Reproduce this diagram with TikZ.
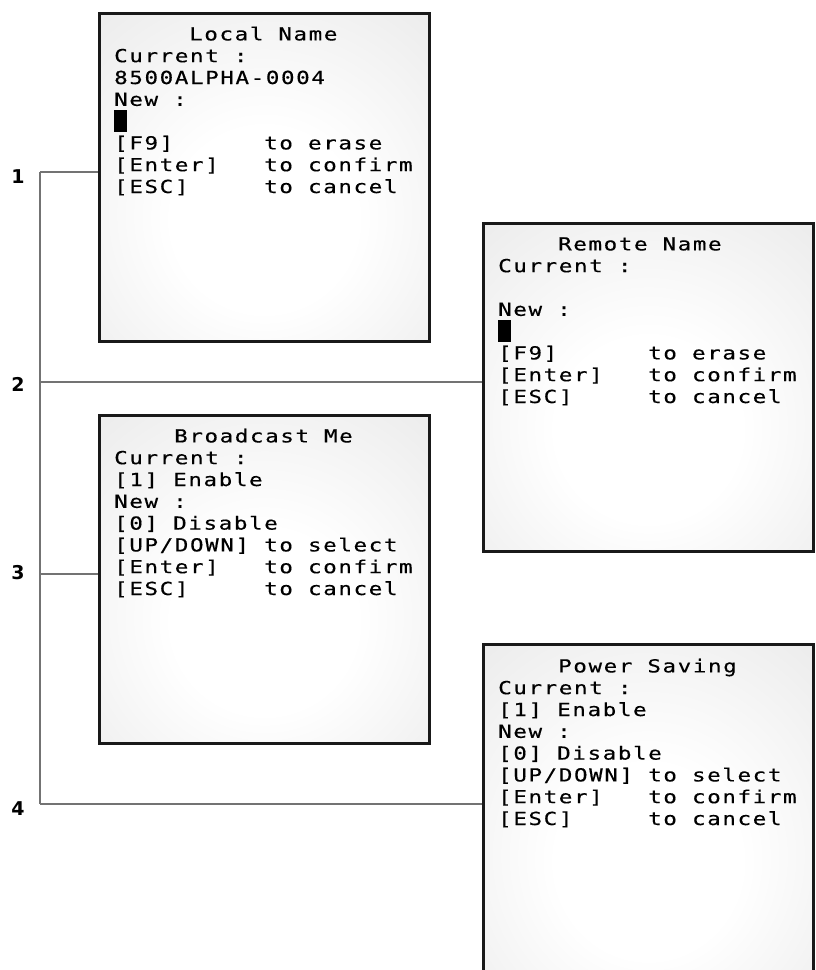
\documentclass[tikz,border=0pt]{standalone}
\usepackage{fontspec}
\usepackage{tikz}
\newfontfamily\scrfont[LetterSpace=9,FakeStretch=1.25,FakeBold=0.4]{DejaVu Sans Mono}
\newfontfamily\numfont{DejaVu Sans}
\newcommand{\keycol}[1]{\makebox[150pt][l]{#1}}
\newcommand{\indt}[1]{\hspace*{#1\dimexpr15pt\relax}}
\newcommand{\cursor}{\rule[-4pt]{13pt}{22pt}}
\newcommand{\scrsp}{\spaceskip=15pt\relax}
\pgfdeclareradialshading{scrglow}{\pgfpoint{0bp}{-8bp}}{color(0bp)=(white); color(14bp)=(white); color(50bp)=(black!11); color(75bp)=(black!18)}
\tikzstyle{scr}=[draw=black!90,line width=2.6pt,shade,shading=scrglow,minimum width=330pt,minimum height=328pt,anchor=north west,inner sep=0pt]
\tikzstyle{txt}=[anchor=base west,align=left,inner sep=0pt,font=\scrfont\fontsize{18pt}{21.8pt}\selectfont]
\tikzstyle{num}=[font=\numfont\bfseries\fontsize{19pt}{20pt}\selectfont]
\tikzstyle{wire}=[draw=black!55,line width=1.6pt]

\begin{document}
\begin{tikzpicture}[x=1pt,y=-1pt]
        \clip (0,0) rectangle (815,970);
        \node[scr] (S1) at (98,12) {};
        \node[scr] (S2) at (482,222) {};
        \node[scr] (S3) at (98,414) {};
        \node[scr,minimum height=345pt] (S4) at (482,643) {};
        % base anchor sits on the last line
        \node[txt] (T1) at (114,193) {\scrsp\indt{5}Local Name\\ Current :\\ 8500ALPHA-0004\\ New :\\ \cursor\\
            \keycol{[F9]}to erase\\ \keycol{[Enter]}to confirm\\ \keycol{[ESC]}to cancel};
        \node[txt] (T2) at (498,403) {\scrsp\indt{4}Remote Name\\ Current :\\ \mbox{}\\ New :\\ \cursor\\
            \keycol{[F9]}to erase\\ \keycol{[Enter]}to confirm\\ \keycol{[ESC]}to cancel};
        \node[txt] (T3) at (114,595) {\scrsp\indt{4}Broadcast Me\\ Current :\\ \relax[1] Enable\\ New :\\ \relax[0] Disable\\
            \keycol{[UP/DOWN]}to select\\ \keycol{[Enter]}to confirm\\ \keycol{[ESC]}to cancel};
        \node[txt] (T4) at (498,825) {\scrsp\indt{4}Power Saving\\ Current :\\ \relax[1] Enable\\ New :\\ \relax[0] Disable\\
            \keycol{[UP/DOWN]}to select\\ \keycol{[Enter]}to confirm\\ \keycol{[ESC]}to cancel};
        \node[num] (N1) at (18,177) {1};
        \node[num] (N2) at (18,384) {2};
        \node[num] (N3) at (18,573) {3};
        \node[num] (N4) at (18,809) {4};
        \coordinate (J1) at (40,172);
        \coordinate (J2) at (40,382);
        \coordinate (J3) at (40,574);
        \coordinate (J4) at (40,804);
        \draw[wire] (J1) -- (J4);
        \draw[wire] (J1) -- (S1.west |- J1);
        \draw[wire] (J2) -- (S2.west |- J2);
        \draw[wire] (J3) -- (S3.west |- J3);
        \draw[wire] (J4) -- (S4.west |- J4);
    \end{tikzpicture}
\end{document}
